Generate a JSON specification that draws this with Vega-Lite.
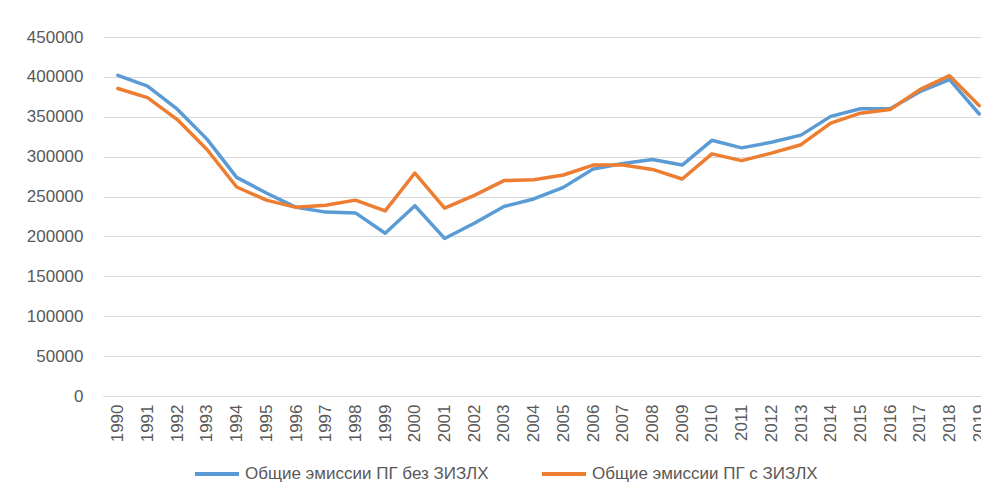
{
  "$schema": "https://vega.github.io/schema/vega-lite/v6.json",
  "autosize": {"type": "none"},
  "width": 878,
  "height": 359,
  "padding": {"left": 103, "top": 37, "right": 0, "bottom": 96},
  "background": "white",
  "config": {
    "font": "Liberation Sans",
    "view": {"stroke": null}
  },
  "data": {
    "values": [
      {"year": 1990, "series": "Общие эмиссии ПГ без ЗИЗЛХ", "value": 402000},
      {"year": 1991, "series": "Общие эмиссии ПГ без ЗИЗЛХ", "value": 388500},
      {"year": 1992, "series": "Общие эмиссии ПГ без ЗИЗЛХ", "value": 359500},
      {"year": 1993, "series": "Общие эмиссии ПГ без ЗИЗЛХ", "value": 322000},
      {"year": 1994, "series": "Общие эмиссии ПГ без ЗИЗЛХ", "value": 274000},
      {"year": 1995, "series": "Общие эмиссии ПГ без ЗИЗЛХ", "value": 254500},
      {"year": 1996, "series": "Общие эмиссии ПГ без ЗИЗЛХ", "value": 236500},
      {"year": 1997, "series": "Общие эмиссии ПГ без ЗИЗЛХ", "value": 230500},
      {"year": 1998, "series": "Общие эмиссии ПГ без ЗИЗЛХ", "value": 229500},
      {"year": 1999, "series": "Общие эмиссии ПГ без ЗИЗЛХ", "value": 204000},
      {"year": 2000, "series": "Общие эмиссии ПГ без ЗИЗЛХ", "value": 238500},
      {"year": 2001, "series": "Общие эмиссии ПГ без ЗИЗЛХ", "value": 197500},
      {"year": 2002, "series": "Общие эмиссии ПГ без ЗИЗЛХ", "value": 216500},
      {"year": 2003, "series": "Общие эмиссии ПГ без ЗИЗЛХ", "value": 237500},
      {"year": 2004, "series": "Общие эмиссии ПГ без ЗИЗЛХ", "value": 247000},
      {"year": 2005, "series": "Общие эмиссии ПГ без ЗИЗЛХ", "value": 261500},
      {"year": 2006, "series": "Общие эмиссии ПГ без ЗИЗЛХ", "value": 284500},
      {"year": 2007, "series": "Общие эмиссии ПГ без ЗИЗЛХ", "value": 291500},
      {"year": 2008, "series": "Общие эмиссии ПГ без ЗИЗЛХ", "value": 296500},
      {"year": 2009, "series": "Общие эмиссии ПГ без ЗИЗЛХ", "value": 289500},
      {"year": 2010, "series": "Общие эмиссии ПГ без ЗИЗЛХ", "value": 320500},
      {"year": 2011, "series": "Общие эмиссии ПГ без ЗИЗЛХ", "value": 311000},
      {"year": 2012, "series": "Общие эмиссии ПГ без ЗИЗЛХ", "value": 318000},
      {"year": 2013, "series": "Общие эмиссии ПГ без ЗИЗЛХ", "value": 327000},
      {"year": 2014, "series": "Общие эмиссии ПГ без ЗИЗЛХ", "value": 350500},
      {"year": 2015, "series": "Общие эмиссии ПГ без ЗИЗЛХ", "value": 360000},
      {"year": 2016, "series": "Общие эмиссии ПГ без ЗИЗЛХ", "value": 360000},
      {"year": 2017, "series": "Общие эмиссии ПГ без ЗИЗЛХ", "value": 381500},
      {"year": 2018, "series": "Общие эмиссии ПГ без ЗИЗЛХ", "value": 396500},
      {"year": 2019, "series": "Общие эмиссии ПГ без ЗИЗЛХ", "value": 353500},
      {"year": 1990, "series": "Общие эмиссии ПГ с ЗИЗЛХ", "value": 385500},
      {"year": 1991, "series": "Общие эмиссии ПГ с ЗИЗЛХ", "value": 374000},
      {"year": 1992, "series": "Общие эмиссии ПГ с ЗИЗЛХ", "value": 346500},
      {"year": 1993, "series": "Общие эмиссии ПГ с ЗИЗЛХ", "value": 309000},
      {"year": 1994, "series": "Общие эмиссии ПГ с ЗИЗЛХ", "value": 262000},
      {"year": 1995, "series": "Общие эмиссии ПГ с ЗИЗЛХ", "value": 245500},
      {"year": 1996, "series": "Общие эмиссии ПГ с ЗИЗЛХ", "value": 236500},
      {"year": 1997, "series": "Общие эмиссии ПГ с ЗИЗЛХ", "value": 239000},
      {"year": 1998, "series": "Общие эмиссии ПГ с ЗИЗЛХ", "value": 245500},
      {"year": 1999, "series": "Общие эмиссии ПГ с ЗИЗЛХ", "value": 232000},
      {"year": 2000, "series": "Общие эмиссии ПГ с ЗИЗЛХ", "value": 279500},
      {"year": 2001, "series": "Общие эмиссии ПГ с ЗИЗЛХ", "value": 235500},
      {"year": 2002, "series": "Общие эмиссии ПГ с ЗИЗЛХ", "value": 251500},
      {"year": 2003, "series": "Общие эмиссии ПГ с ЗИЗЛХ", "value": 270000},
      {"year": 2004, "series": "Общие эмиссии ПГ с ЗИЗЛХ", "value": 271000},
      {"year": 2005, "series": "Общие эмиссии ПГ с ЗИЗЛХ", "value": 277000},
      {"year": 2006, "series": "Общие эмиссии ПГ с ЗИЗЛХ", "value": 289500},
      {"year": 2007, "series": "Общие эмиссии ПГ с ЗИЗЛХ", "value": 289500},
      {"year": 2008, "series": "Общие эмиссии ПГ с ЗИЗЛХ", "value": 284000},
      {"year": 2009, "series": "Общие эмиссии ПГ с ЗИЗЛХ", "value": 272000},
      {"year": 2010, "series": "Общие эмиссии ПГ с ЗИЗЛХ", "value": 303500},
      {"year": 2011, "series": "Общие эмиссии ПГ с ЗИЗЛХ", "value": 295000},
      {"year": 2012, "series": "Общие эмиссии ПГ с ЗИЗЛХ", "value": 304500},
      {"year": 2013, "series": "Общие эмиссии ПГ с ЗИЗЛХ", "value": 315000},
      {"year": 2014, "series": "Общие эмиссии ПГ с ЗИЗЛХ", "value": 342000},
      {"year": 2015, "series": "Общие эмиссии ПГ с ЗИЗЛХ", "value": 354500},
      {"year": 2016, "series": "Общие эмиссии ПГ с ЗИЗЛХ", "value": 359000},
      {"year": 2017, "series": "Общие эмиссии ПГ с ЗИЗЛХ", "value": 384000},
      {"year": 2018, "series": "Общие эмиссии ПГ с ЗИЗЛХ", "value": 401500},
      {"year": 2019, "series": "Общие эмиссии ПГ с ЗИЗЛХ", "value": 364000}
    ]
  },
  "mark": {"type": "line", "strokeWidth": 3.5, "strokeJoin": "round", "strokeCap": "round", "clip": false},
  "encoding": {
    "x": {
      "field": "year",
      "type": "quantitative",
      "scale": {"domain": [1989.5, 2019.06], "nice": false, "zero": false},
      "axis": {
        "title": null,
        "values": [1990,1991,1992,1993,1994,1995,1996,1997,1998,1999,2000,2001,2002,2003,2004,2005,2006,2007,2008,2009,2010,2011,2012,2013,2014,2015,2016,2017,2018,2019],
        "format": "d",
        "labelAngle": -90,
        "labelFontSize": 17,
        "labelColor": "#595959",
        "labelPadding": 8,
        "labelOverlap": false,
        "labelFlush": false,
        "labelBound": false,
        "ticks": false,
        "grid": false,
        "domain": true,
        "domainColor": "#d9d9d9",
        "domainWidth": 1
      }
    },
    "y": {
      "field": "value",
      "type": "quantitative",
      "scale": {"domain": [0, 450000], "nice": false},
      "axis": {
        "title": null,
        "values": [0,50000,100000,150000,200000,250000,300000,350000,400000,450000],
        "format": "d",
        "labelFontSize": 17,
        "labelColor": "#595959",
        "labelPadding": 20,
        "ticks": false,
        "domain": false,
        "grid": true,
        "gridColor": "#d9d9d9",
        "gridWidth": 1
      }
    },
    "color": {
      "field": "series",
      "type": "nominal",
      "scale": {
        "domain": ["Общие эмиссии ПГ без ЗИЗЛХ", "Общие эмиссии ПГ с ЗИЗЛХ"],
        "range": ["#5B9BD5", "#ED7D31"]
      },
      "legend": {
        "title": null,
        "orient": "none",
        "direction": "horizontal",
        "legendX": 90,
        "legendY": 413,
        "symbolType": "stroke",
        "symbolSize": 1936,
        "symbolStrokeWidth": 4,
        "labelFontSize": 17,
        "labelColor": "#595959",
        "labelOffset": 4,
        "columnPadding": 45,
        "labelLimit": 400
      }
    }
  }
}
